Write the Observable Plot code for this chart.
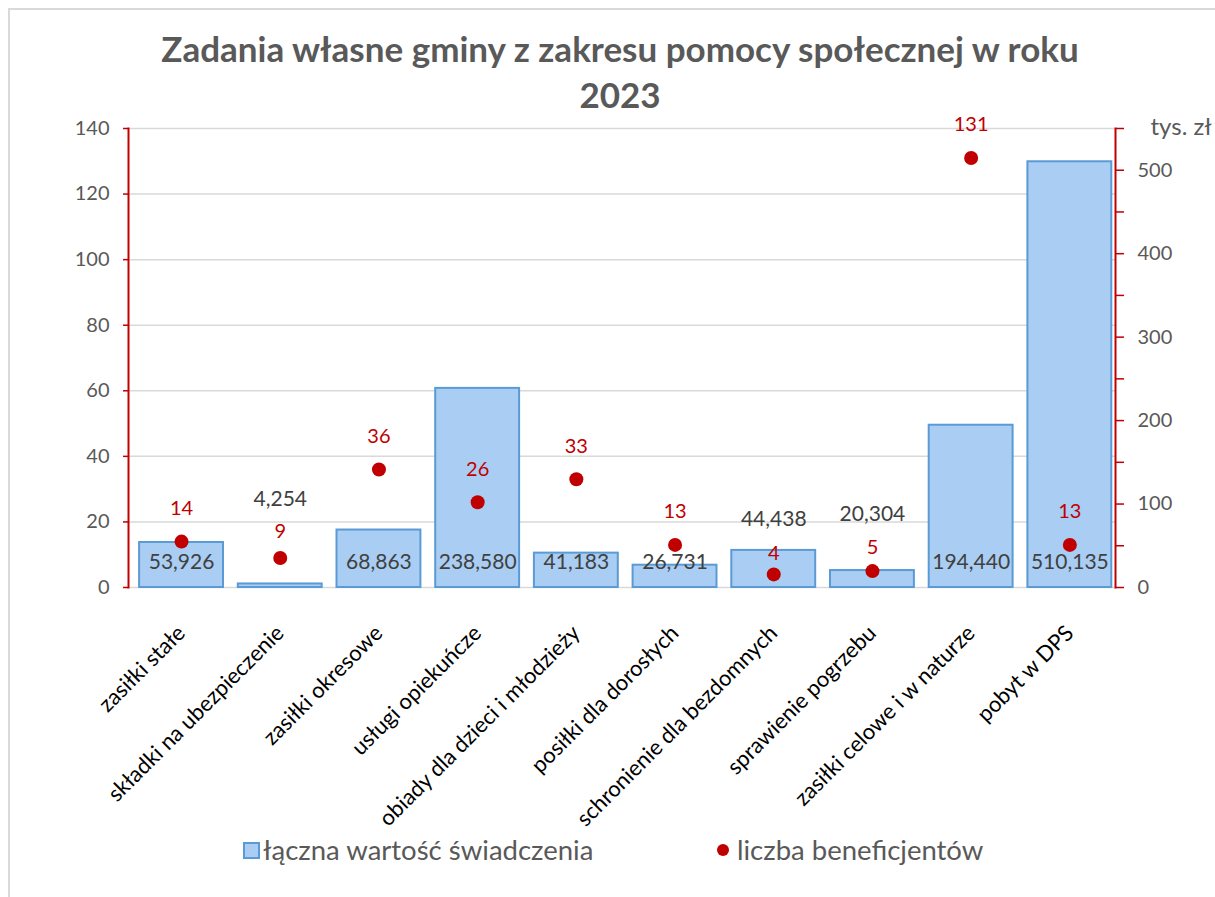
<!DOCTYPE html>
<html lang="pl">
<head>
<meta charset="utf-8">
<script src="https://cdn.jsdelivr.net/npm/d3@7"></script>
<script src="https://cdn.jsdelivr.net/npm/@observablehq/plot@0.6"></script>
<style>
  body { margin: 0; background: #fff; font-family: Lato, "Open Sans", sans-serif; }
  #wrap { position: relative; width: 1215px; height: 897px; overflow: hidden; background: #fff; }
  #border { position: absolute; left: 8px; top: 8px; width: 1400px; height: 1100px;
            border-left: 2px solid #D9D9D9; border-top: 2px solid #D9D9D9; }
  #title { position: absolute; left: 0; top: 25px; width: 1240px; text-align: center;
           font-weight: bold; font-size: 35px; line-height: 46px; color: #595959; }
  #chart { position: absolute; left: 0; top: 100px; }
  .leg { position: absolute; font-size: 27.5px; color: #595959; line-height: 32px; white-space: nowrap; }
  .sw { position: absolute; box-sizing: border-box; }
</style>
</head>
<body>
<div id="wrap">
  <div id="border"></div>
  <div id="title">Zadania własne gminy z zakresu pomocy społecznej w roku<br>2023</div>
  <div id="chart"></div>
  <div class="sw" style="left:243px;top:842px;width:17px;height:17px;background:#A9CDF3;border:2px solid #5B9BD5;"></div>
  <div class="leg" style="left:263px;top:834px;">łączna wartość świadczenia</div>
  <div class="sw" style="left:717px;top:844px;width:12px;height:12px;border-radius:50%;background:#C00000;"></div>
  <div class="leg" style="left:737px;top:834px;">liczba beneficjentów</div>
</div>
<script>
// ---- data ----
const categories = [
  "zasiłki stałe",
  "składki na ubezpieczenie",
  "zasiłki okresowe",
  "usługi opiekuńcze",
  "obiady dla dzieci i młodzieży",
  "posiłki dla dorosłych",
  "schronienie dla bezdomnych",
  "sprawienie pogrzebu",
  "zasiłki celowe i w naturze",
  "pobyt w DPS"
];
// łączna wartość świadczenia (tys. zł) – right axis
const totalValue = [53.926, 4.254, 68.863, 238.580, 41.183, 26.731, 44.438, 20.304, 194.440, 510.135];
// liczba beneficjentów – left axis
const beneficiaries = [14, 9, 36, 26, 33, 13, 4, 5, 131, 13];

const leftDomain = [0, 140];
const leftTicks = [0, 20, 40, 60, 80, 100, 120, 140];
const rightDomain = [0, 550];
const rightTicks = [0, 50, 100, 150, 200, 250, 300, 350, 400, 450, 500, 550];
const rightLabelStep = 100;
const rightUnit = "tys. zł";

// ---- layout (manual label placement as in the original) ----
const frameHeightPx = 459;                          // plot area height in px
const pxToUnits = leftDomain[1] / frameHeightPx;
const manualBarLabelY = { 1: 26.8, 6: 20.7, 7: 22.3 }; // in left-axis units
const dotLabelDyPx = { 1: -26, 6: -21, 7: -24 };     // default -33

const K = leftDomain[1] / rightDomain[1];
const fmt = v => v.toFixed(3).replace(".", ",");
const rows = categories.map((c, i) => ({
  cat: c, i, value: totalValue[i], vy: totalValue[i] * K, n: beneficiaries[i],
  ny: beneficiaries[i] - (i in dotLabelDyPx ? dotLabelDyPx[i] : -33) * pxToUnits
}));
const insideRows = rows.filter(d => !(d.i in manualBarLabelY));
const manualRows = rows.filter(d => d.i in manualBarLabelY).map(d => ({...d, ly: manualBarLabelY[d.i]}));

const FONT = "Lato, 'Open Sans', sans-serif";
const chart = Plot.plot({
  width: 1215,
  height: 730,
  marginLeft: 128,
  marginRight: 100,
  marginTop: 28,
  marginBottom: 243,
  style: { fontFamily: FONT, background: "transparent", overflow: "visible" },
  x: { domain: categories, paddingInner: 0.15, paddingOuter: 0.075, align: 0.75, round: false, axis: null },
  y: { domain: leftDomain, axis: null },
  marks: [
    Plot.gridY(leftTicks, { stroke: "#D9D9D9", strokeOpacity: 1, strokeWidth: 1.5 }),
    Plot.barY(rows, { x: "cat", y: "vy", fill: "#A9CDF3", stroke: "#5B9BD5", strokeWidth: 2 }),
    Plot.frame({ anchor: "left", stroke: "#C00000", strokeWidth: 2 }),
    Plot.frame({ anchor: "right", stroke: "#C00000", strokeWidth: 2 }),
    Plot.axisY(leftTicks, {
      anchor: "left", label: null, tickSize: 5, tickPadding: 14,
      stroke: "#C00000", fill: "#595959", fontSize: 20, strokeWidth: 1.5
    }),
    Plot.axisY(rightTicks.map(v => v * K), {
      anchor: "right", label: null, tickSize: 8, tickPadding: 14,
      stroke: "#C00000", fill: "#595959", fontSize: 20, strokeWidth: 1.5,
      tickFormat: d => { const v = Math.round(d / K); return v % rightLabelStep === 0 ? String(v) : ""; }
    }),
    Plot.axisX({
      anchor: "bottom", label: null, tickSize: 0, tickPadding: 42, tickRotate: -45,
      fill: "#000", fontSize: 22
    }),
    Plot.text(insideRows, { x: "cat", y: () => 0, dy: -25, text: d => fmt(d.value), fill: "#404040", fontSize: 21 }),
    Plot.text(manualRows, { x: "cat", y: "ly", text: d => fmt(d.value), fill: "#404040", fontSize: 21 }),
    Plot.dot(rows, { x: "cat", y: "n", r: 7, fill: "#C00000" }),
    Plot.text(rows, { x: "cat", y: "ny", text: d => String(d.n), fill: "#C00000", fontSize: 20 }),
    Plot.text([rightUnit], { frameAnchor: "top-right", dx: 35, dy: -11, textAnchor: "start", fill: "#595959", fontSize: 24 })
  ]
});
document.getElementById("chart").appendChild(chart);
</script>
</body>
</html>
